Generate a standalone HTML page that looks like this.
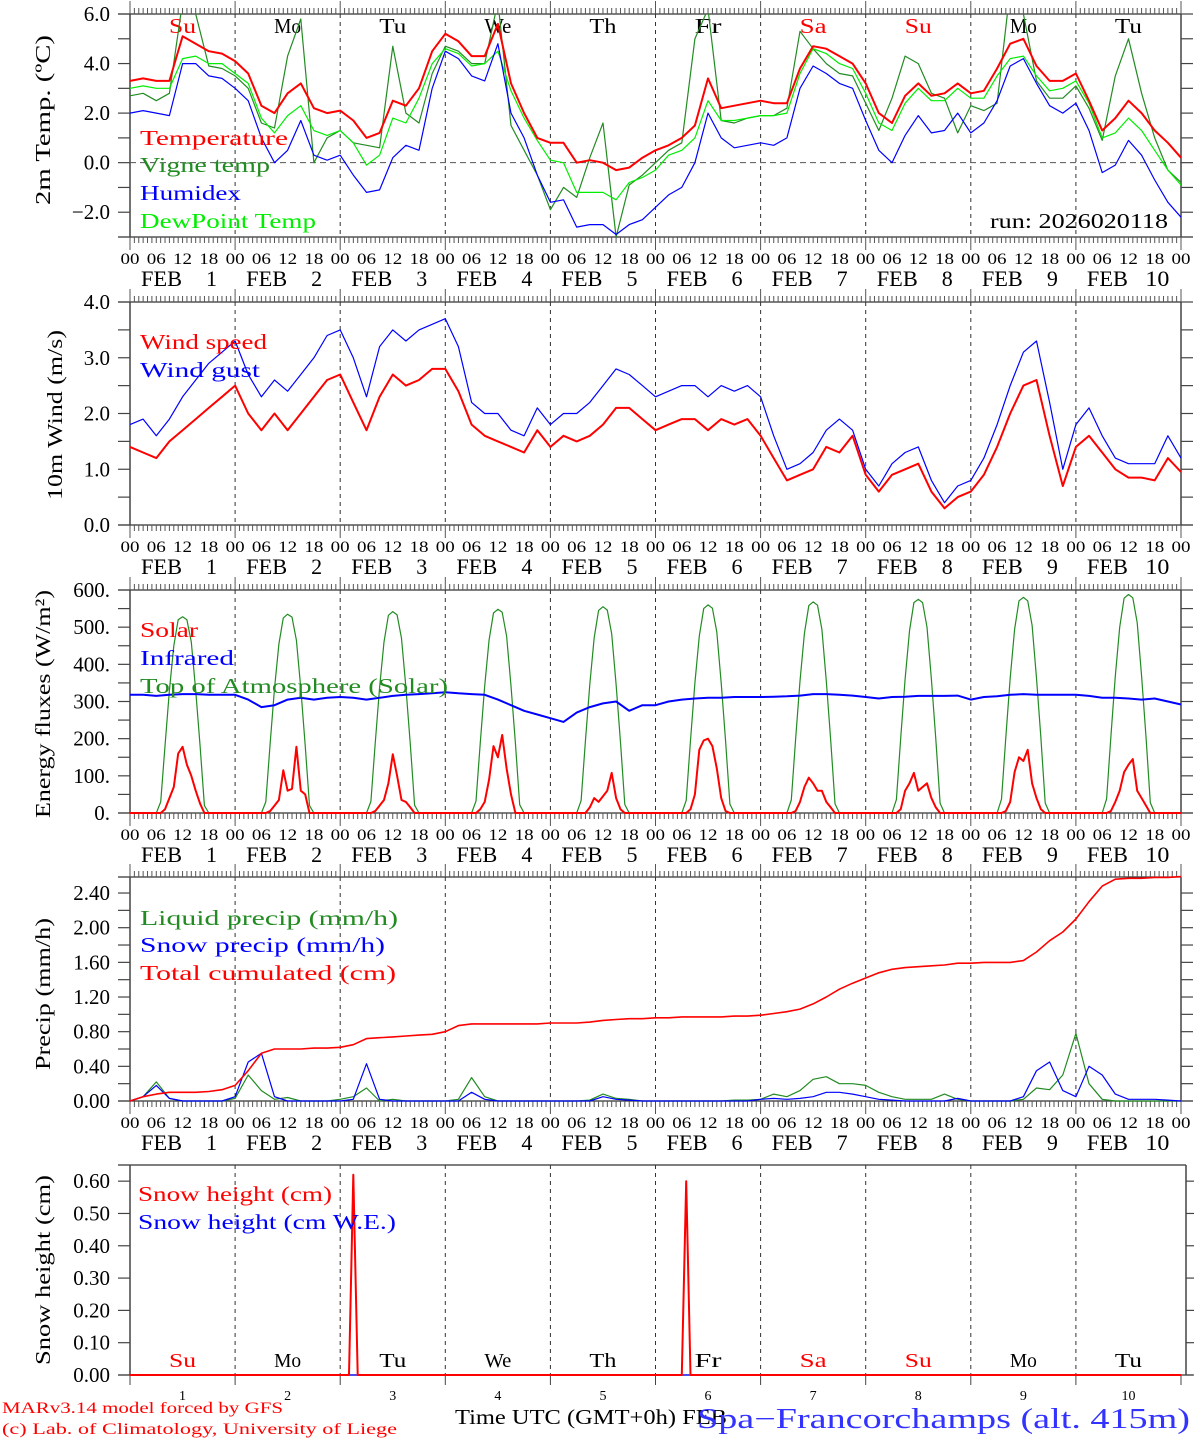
<!DOCTYPE html>
<html><head><meta charset="utf-8"><title>MAR meteogram Spa-Francorchamps</title>
<style>
html,body{margin:0;padding:0;background:#fff;}
svg{display:block;font-family:"Liberation Serif","DejaVu Serif",serif;}
</style></head>
<body>
<svg id="chart" xmlns="http://www.w3.org/2000/svg" width="1194" height="1440" viewBox="0 0 1194 1440"></svg>
<script>
// ---------- DATA (3-hourly, 00 Feb 1 .. 00 Feb 11) ----------
const dayNames = ["Su","Mo","Tu","We","Th","Fr","Sa","Su","Mo","Tu"];
const dayNameRed = [true,false,false,false,false,false,true,true,false,false];
const dayNumbers = ["1","2","3","4","5","6","7","8","9","10"];
const hourLabels = ["00","06","12","18"];
const tempTicks = [6,4,2,0,-2];
const tempTickLabels = ["6.0","4.0","2.0","0.0","\u22122.0"];
const windTicks = [4,3,2,1,0];
const windTickLabels = ["4.0","3.0","2.0","1.0","0.0"];
const fluxTicks = [600,500,400,300,200,100,0];
const fluxTickLabels = ["600.","500.","400.","300.","200.","100.","0."];
const precTicks = [2.4,2.0,1.6,1.2,0.8,0.4,0];
const precTickLabels = ["2.40","2.00","1.60","1.20","0.80","0.40","0.00"];
const snowTicks = [0.6,0.5,0.4,0.3,0.2,0.1,0];
const snowTickLabels = ["0.60","0.50","0.40","0.30","0.20","0.10","0.00"];

const temperature = [3.3,3.4,3.3,3.3,5.1,4.8,4.5,4.4, 4.1,3.6,2.3,2.0,2.8,3.2,2.2,2.0, 2.1,1.7,1.0,1.2,2.5,2.3,3.0,4.5, 5.2,4.9,4.3,4.3,5.6,3.2,2.0,1.0, 0.8,0.8,0.0,0.1,0.0,-0.3,-0.2,0.2, 0.5,0.7,1.0,1.5,3.4,2.2,2.3,2.4, 2.5,2.4,2.4,3.8,4.7,4.6,4.3,4.0, 3.2,2.0,1.6,2.7,3.2,2.7,2.8,3.2, 2.8,2.9,3.8,4.8,5.0,3.9,3.3,3.3, 3.6,2.5,1.3,1.8,2.5,2.0,1.3,0.8,0.2];
const vigneTemp = [2.7,2.8,2.5,2.8,6.5,6.0,3.9,3.8, 3.5,3.0,1.6,1.4,4.3,5.8,0.0,1.0, 1.3,0.8,0.7,0.6,4.7,2.0,1.6,3.6, 4.7,4.5,4.0,4.0,6.5,1.5,0.5,-0.5, -1.9,-1.0,-1.4,0.2,1.6,-3.0,-0.9,-0.5, 0.0,0.5,0.8,5.0,6.2,1.7,1.6,1.8, 1.9,1.9,2.2,5.3,4.6,4.0,3.6,3.5, 2.4,1.3,2.6,4.3,4.0,2.8,2.6,1.2, 2.3,2.1,2.4,7.0,6.0,3.3,2.6,2.6, 3.1,2.2,0.9,3.5,5.0,2.8,1.0,-0.3,-0.8];
const humidex = [2.0,2.1,2.0,1.9,4.0,4.0,3.5,3.4, 3.0,2.5,1.0,0.0,0.5,1.7,0.3,0.1, 0.3,-0.5,-1.2,-1.1,0.2,0.7,0.5,3.0, 4.5,4.2,3.5,3.3,4.8,2.0,1.0,-0.5, -1.6,-1.5,-2.6,-2.5,-2.5,-2.9,-2.5,-2.3, -1.8,-1.3,-1.0,0.0,2.0,1.0,0.6,0.7, 0.8,0.7,1.0,3.0,3.9,3.6,3.2,3.0, 1.7,0.5,0.0,1.1,1.9,1.2,1.3,2.0, 1.2,1.6,2.5,3.9,4.2,3.2,2.3,2.0, 2.4,1.3,-0.4,-0.1,0.9,0.3,-0.7,-1.6,-2.2];
const dewPoint = [3.0,3.1,3.0,3.0,4.2,4.3,4.0,4.0, 3.6,3.2,1.8,1.2,1.9,2.3,1.3,1.1, 1.3,0.8,-0.1,0.3,1.8,1.6,2.6,4.0, 4.6,4.4,3.9,4.0,4.5,2.9,1.8,0.9, 0.1,0.0,-1.2,-1.2,-1.2,-1.5,-0.8,-0.6, -0.3,0.3,0.5,1.0,2.5,1.7,1.7,1.8, 1.9,1.9,2.0,3.6,4.6,4.4,4.0,3.8, 2.8,1.6,1.3,2.4,3.0,2.5,2.5,3.0, 2.6,2.6,3.5,4.2,4.3,3.5,2.9,3.0, 3.3,2.4,1.0,1.2,1.8,1.3,0.5,-0.3,-0.9];

const windSpeed = [1.4,1.3,1.2,1.5,1.7,1.9,2.1,2.3, 2.5,2.0,1.7,2.0,1.7,2.0,2.3,2.6, 2.7,2.2,1.7,2.3,2.7,2.5,2.6,2.8, 2.8,2.4,1.8,1.6,1.5,1.4,1.3,1.7, 1.4,1.6,1.5,1.6,1.8,2.1,2.1,1.9, 1.7,1.8,1.9,1.9,1.7,1.9,1.8,1.9, 1.6,1.2,0.8,0.9,1.0,1.4,1.3,1.6, 0.9,0.6,0.9,1.0,1.1,0.6,0.3,0.5, 0.6,0.9,1.4,2.0,2.5,2.6,1.6,0.7, 1.4,1.6,1.3,1.0,0.85,0.85,0.8,1.2,0.95];
const windGust = [1.8,1.9,1.6,1.9,2.3,2.6,2.9,3.1, 3.3,2.7,2.3,2.6,2.4,2.7,3.0,3.4, 3.5,3.0,2.3,3.2,3.5,3.3,3.5,3.6, 3.7,3.2,2.2,2.0,2.0,1.7,1.6,2.1, 1.8,2.0,2.0,2.2,2.5,2.8,2.7,2.5, 2.3,2.4,2.5,2.5,2.3,2.5,2.4,2.5, 2.3,1.6,1.0,1.1,1.3,1.7,1.9,1.7, 1.0,0.7,1.1,1.3,1.4,0.8,0.4,0.7, 0.8,1.2,1.8,2.5,3.1,3.3,2.2,1.0, 1.8,2.1,1.6,1.2,1.1,1.1,1.1,1.6,1.2];

const infrared = [318,318,315,318,320,320,318,318, 318,305,285,290,305,310,305,310, 312,310,305,310,315,318,320,322, 325,322,320,318,305,290,275,265, 255,245,270,285,295,300,275,290, 290,300,305,308,310,310,312,312, 312,313,314,316,320,320,318,316, 312,308,312,313,315,315,315,316, 305,312,314,318,320,318,318,318, 318,315,310,310,308,305,308,300,292];
// hourly values 06h..18h for each day
const solarDaytime = [
 [0,0,10,40,70,160,178,130,100,60,25,0,0],
 [0,0,5,20,35,115,60,65,178,60,50,0,0],
 [0,0,5,20,35,80,158,100,35,30,15,0,0],
 [0,0,10,30,90,180,150,210,120,50,0,0,0],
 [0,0,0,15,40,30,45,60,108,40,10,0,0],
 [0,0,10,50,170,195,200,180,120,40,5,0,0],
 [0,0,5,30,70,95,80,60,60,30,15,0,0],
 [0,0,10,60,80,108,60,70,80,40,15,0,0],
 [0,0,5,30,110,150,140,170,80,40,10,0,0],
 [0,0,5,30,60,110,130,145,60,40,20,0,0]];
const toaDaytime = [
 [0,30,180,330,450,520,528,520,460,330,180,20,0],
 [0,30,185,335,455,525,535,527,465,335,182,20,0],
 [0,31,187,338,460,532,542,533,470,338,185,21,0],
 [0,32,190,342,466,538,548,540,476,342,188,22,0],
 [0,33,193,346,472,545,555,546,482,346,190,23,0],
 [0,34,195,350,476,550,560,551,487,350,193,24,0],
 [0,35,198,355,483,558,568,559,494,355,196,25,0],
 [0,36,201,360,490,566,575,566,500,360,199,26,0],
 [0,37,203,363,494,571,580,571,505,363,202,27,0],
 [0,38,206,368,500,578,588,579,512,368,205,28,0]];

const totalCumul = [0,0.05,0.08,0.1,0.1,0.1,0.11,0.13, 0.18,0.35,0.55,0.6,0.6,0.6,0.61,0.61, 0.62,0.65,0.72,0.73,0.74,0.75,0.76,0.77, 0.8,0.87,0.89,0.89,0.89,0.89,0.89,0.89, 0.9,0.9,0.9,0.91,0.93,0.94,0.95,0.95, 0.96,0.96,0.97,0.97,0.97,0.97,0.98,0.98, 0.99,1.01,1.03,1.06,1.12,1.2,1.29,1.36, 1.42,1.48,1.52,1.54,1.55,1.56,1.57,1.59, 1.59,1.6,1.6,1.6,1.62,1.72,1.85,1.95, 2.1,2.3,2.48,2.56,2.57,2.57,2.58,2.58,2.59];
const liquidPrecip = [0,0.05,0.22,0.03,0,0,0,0, 0.03,0.3,0.12,0.02,0.04,0,0,0, 0.02,0.05,0.15,0,0.02,0,0,0, 0,0.02,0.27,0.05,0,0,0,0, 0,0,0,0.01,0.08,0.03,0.02,0, 0,0,0,0,0,0,0.01,0.01, 0.02,0.08,0.05,0.12,0.25,0.28,0.2,0.2, 0.18,0.1,0.05,0.02,0.02,0.02,0.08,0.02, 0,0,0,0,0.02,0.15,0.13,0.3, 0.78,0.2,0.02,0,0,0,0,0,0];
const snowPrecip = [0,0.05,0.18,0.03,0,0,0,0, 0.05,0.45,0.55,0.05,0,0,0,0, 0,0.02,0.43,0.02,0,0,0,0, 0,0,0.1,0.02,0,0,0,0, 0,0,0,0,0.05,0.02,0.01,0, 0,0,0,0,0,0,0,0, 0.02,0.03,0.02,0.03,0.05,0.1,0.1,0.08, 0.05,0.02,0.01,0,0,0,0,0.03, 0,0,0,0,0.05,0.35,0.45,0.12, 0.05,0.4,0.3,0.08,0.02,0.02,0.02,0.01,0];

const snowHours = [0,50,51,52,126,127,128,240];
const snowHeight = [0,0,0.62,0,0,0.60,0,0];
const snowWE = [0,0,0,0,0,0,0,0];

// ---------- DRAWING ----------
const NS="http://www.w3.org/2000/svg";
const svg=document.getElementById('chart');
function el(tag,attrs,parent){const e=document.createElementNS(NS,tag);for(const k in attrs)e.setAttribute(k,attrs[k]);(parent||svg).appendChild(e);return e;}
function txt(s,x,y,size,fill,anchor,parent,len){const t=el('text',{x:x,y:y,'font-size':size,fill:fill,'text-anchor':anchor||'start'},parent);t.textContent=s;
  if(len){t.setAttribute('textLength',len);t.setAttribute('lengthAdjust','spacingAndGlyphs');}return t;}

const X0=130, X1=1181, HOURS=240;
function xh(h){return X0+(X1-X0)*h/HOURS;}
const hours3=temperature.map((_,i)=>i*3);

function yScale(top,bottom,vTop,vBottom){return v=>bottom-(v-vBottom)*(bottom-top)/(vTop-vBottom);}

function frame(name,top,bottom,ys,ticks,labels,minor,showHours){
  const g=el('g',{});
  
  
  for(let d=1;d<10;d++){const x=xh(d*24);el('line',{x1:x,y1:top,x2:x,y2:bottom,stroke:'#333','stroke-width':1,'stroke-dasharray':'4,4'},g);}
  el('line',{x1:X0-12,y1:top,x2:X1,y2:top,stroke:'#333','stroke-width':1.3},g);
  el('line',{x1:X0-12,y1:bottom,x2:X1+12,y2:bottom,stroke:'#333','stroke-width':1.3},g);
  el('line',{x1:X0,y1:top,x2:X0,y2:bottom,stroke:'#444','stroke-width':1.5},g);
  el('line',{x1:X1,y1:top,x2:X1,y2:bottom,stroke:'#444','stroke-width':1.5},g);
  if(showHours){
    for(let h=0;h<=HOURS;h++){const x=xh(h);const L=(h%24===0)?13:6;
      el('line',{x1:x,y1:top,x2:x,y2:top-L,stroke:'#555','stroke-width':1},g);
      el('line',{x1:x,y1:bottom,x2:x,y2:bottom+L,stroke:'#555','stroke-width':1},g);}
    for(let d=0;d<=10;d++){for(let k=0;k<4;k++){if(d===10&&k>0)break;const h=d*24+k*6;
      txt(hourLabels[k],xh(h),bottom+27,16,'#000','middle',g,19);}}
    for(let d=0;d<10;d++){const cx=xh(d*24+12);
      txt('FEB',cx-21,bottom+49,22,'#000','middle',g,41);
      txt(dayNumbers[d],cx+29,bottom+49,22,'#000','middle',g,d===9?24:null);}
  }
  ticks.forEach((v,i)=>{const y=ys(v);
    el('line',{x1:X0-12,y1:y,x2:X0,y2:y,stroke:'#444','stroke-width':1.2},g);
    el('line',{x1:X1,y1:y,x2:X1+12,y2:y,stroke:'#444','stroke-width':1.2},g);
    txt(labels[i],X0-20,y+7,21,'#000','end',g);});
  minor.forEach(v=>{const y=ys(v);
    el('line',{x1:X0-12,y1:y,x2:X0,y2:y,stroke:'#444','stroke-width':1.2},g);
    el('line',{x1:X1,y1:y,x2:X1+12,y2:y,stroke:'#444','stroke-width':1.2},g);});
  return g;
}
function series(name,hrs,vals,ys,color,w){
  const p=el('polyline',{points:vals.map((v,i)=>xh(hrs[i]).toFixed(1)+','+ys(v).toFixed(1)).join(' '),fill:'none',stroke:color,'stroke-width':w,'stroke-linejoin':'round'});
  
  
  return p;
}
function ytitle(s,cx,cy,len,name){const t=txt(s,0,0,21,'#000','middle',null,len);t.setAttribute('transform','translate('+cx+','+cy+') rotate(-90)');
  
  }
function legend(s,x,y,color,len,name){const t=txt(s,x,y,21,color,'start',null,len);
  
  }

// Panel 1: temperature
const yT=yScale(14,237,6,-3);
frame('temperature-panel',14,237,yT,tempTicks,tempTickLabels,[5,3,1,-1],true);
el('line',{x1:X0,y1:yT(0),x2:X1,y2:yT(0),stroke:'#555','stroke-width':1,'stroke-dasharray':'6,4'});
for(let d=0;d<10;d++){const t=txt(dayNames[d],xh(d*24+12),33,21,dayNameRed[d]?'#f00':'#000','middle',null,27);
  
  }
const clipT=el('clipPath',{id:'clipT'});el('rect',{x:X0,y:14,width:X1-X0,height:223},clipT);
const gT=el('g',{'clip-path':'url(#clipT)'});
gT.appendChild(series('vigne-temp-line',hours3,vigneTemp,yT,'#228b22',1.2));
gT.appendChild(series('dewpoint-line',hours3,dewPoint,yT,'#00ee00',1.2));
gT.appendChild(series('humidex-line',hours3,humidex,yT,'#0000ff',1.2));
gT.appendChild(series('temperature-line',hours3,temperature,yT,'#ff0000',2));
ytitle('2m Temp. (\u00BAC)',50,120,170,'temp-y-axis-title');
legend('Temperature',140,145,'#f00',148,'legend-temperature');
legend('Vigne temp',140,172,'#228b22',130,'legend-vigne-temp');
legend('Humidex',140,200,'#00f',101,'legend-humidex');
legend('DewPoint Temp',140,228,'#00ee00',176,'legend-dewpoint');
{const t=txt('run: 2026020118',990,228,21,'#000','start',null,178);
 
 }

// Panel 2: wind
const yW=yScale(302,525,4,0);
frame('wind-panel',302,525,yW,windTicks,windTickLabels,[3.5,2.5,1.5,0.5],true);
series('wind-gust-line',hours3,windGust,yW,'#0000ff',1.2);
series('wind-speed-line',hours3,windSpeed,yW,'#ff0000',2);
ytitle('10m Wind (m/s)',62,415,170,'wind-y-axis-title');
legend('Wind speed',140,349,'#f00',127,'legend-wind-speed');
legend('Wind gust',140,377,'#00f',120,'legend-wind-gust');

// Panel 3: energy fluxes
const yF=yScale(590,813,600,0);
frame('flux-panel',590,813,yF,fluxTicks,fluxTickLabels,[550,450,350,250,150,50],true);
const hrsH=[],solarH=[],toaH=[];
for(let d=0;d<10;d++){for(let h=0;h<24;h++){hrsH.push(d*24+h);
  solarH.push(h>=6&&h<=18?solarDaytime[d][h-6]:0);
  toaH.push(h>=6&&h<=18?toaDaytime[d][h-6]:0);}}
hrsH.push(240);solarH.push(0);toaH.push(0);
series('toa-solar-line',hrsH,toaH,yF,'#228b22',1.2);
series('infrared-line',hours3,infrared,yF,'#0000ff',2);
series('solar-line',hrsH,solarH,yF,'#ff0000',2);
ytitle('Energy fluxes (W/m\u00B2)',50,704,228,'flux-y-axis-title');
legend('Solar',140,637,'#f00',58,'legend-solar');
legend('Infrared',140,665,'#00f',94,'legend-infrared');
legend('Top of Atmosphere (Solar)',140,693,'#228b22',308,'legend-toa');

// Panel 4: precip
const yP=yScale(877,1101,2.585,0);
frame('precip-panel',877,1101,yP,precTicks,precTickLabels,[2.2,1.8,1.4,1.0,0.6,0.2],true);
series('liquid-precip-line',hours3,liquidPrecip,yP,'#228b22',1.2);
series('snow-precip-line',hours3,snowPrecip,yP,'#0000ff',1.2);
series('total-cumulated-line',hours3,totalCumul,yP,'#ff0000',1.6);
ytitle('Precip (mm/h)',50,994,152,'precip-y-axis-title');
legend('Liquid precip (mm/h)',140,925,'#228b22',258,'legend-liquid');
legend('Snow precip (mm/h)',140,952,'#00f',245,'legend-snow-precip');
legend('Total cumulated (cm)',140,980,'#f00',256,'legend-total');

// Panel 5: snow height
const yS=yScale(1165,1375,0.65,0);
{const g=el('g',{});
 
 
 for(let d=1;d<10;d++){const x=xh(d*24);el('line',{x1:x,y1:1165,x2:x,y2:1375,stroke:'#333','stroke-width':1,'stroke-dasharray':'4,4'},g);}
 el('line',{x1:X0-12,y1:1165,x2:X1+5,y2:1165,stroke:'#333','stroke-width':1.3},g);
 el('line',{x1:X0-12,y1:1375,x2:X1+12,y2:1375,stroke:'#333','stroke-width':1.3},g);
 el('line',{x1:X0,y1:1165,x2:X0,y2:1375,stroke:'#444','stroke-width':1.5},g);
 el('line',{x1:X1+5,y1:1165,x2:X1+5,y2:1375,stroke:'#444','stroke-width':1.5},g);
 for(let d=0;d<=10;d++){const x=xh(d*24);el('line',{x1:x,y1:1375,x2:x,y2:1385,stroke:'#444','stroke-width':1},g);}
 snowTicks.forEach((v,i)=>{const y=yS(v);
   el('line',{x1:X0-12,y1:y,x2:X0,y2:y,stroke:'#444','stroke-width':1.2},g);
   el('line',{x1:X1+5,y1:y,x2:X1+14,y2:y,stroke:'#444','stroke-width':1.2},g);
   txt(snowTickLabels[i],X0-20,y+7,21,'#000','end',g);});
 for(let d=0;d<10;d++){const cx=xh(d*24+12);
   txt(dayNames[d],cx,1367,20,dayNameRed[d]?'#f00':'#000','middle',g,27);
   txt(dayNumbers[d],cx,1400,14,'#000','middle',g);}
}
series('snow-we-line',snowHours,snowWE,yS,'#0000ff',1.2);
series('snow-height-line',snowHours,snowHeight,yS,'#ff0000',2);
ytitle('Snow height (cm)',50,1270,190,'snow-y-axis-title');
legend('Snow height (cm)',138,1201,'#f00',194,'legend-snow-height');
legend('Snow height (cm W.E.)',138,1229,'#00f',258,'legend-snow-we');

// footer
{let t=txt('MARv3.14 model forced by GFS',2,1413,16,'#f00','start',null,281);
 
 
 t=txt('(c) Lab. of Climatology, University of Liege',2,1434,16,'#f00','start',null,395);
 
 
 t=txt('Time UTC (GMT+0h) FEB',455,1424,21,'#000','start',null,272);
 
 
 t=txt('Spa\u2212Francorchamps (alt. 415m)',697,1428,28,'#3333ff','start',null,493);
 
 }
</script>
</body></html>
